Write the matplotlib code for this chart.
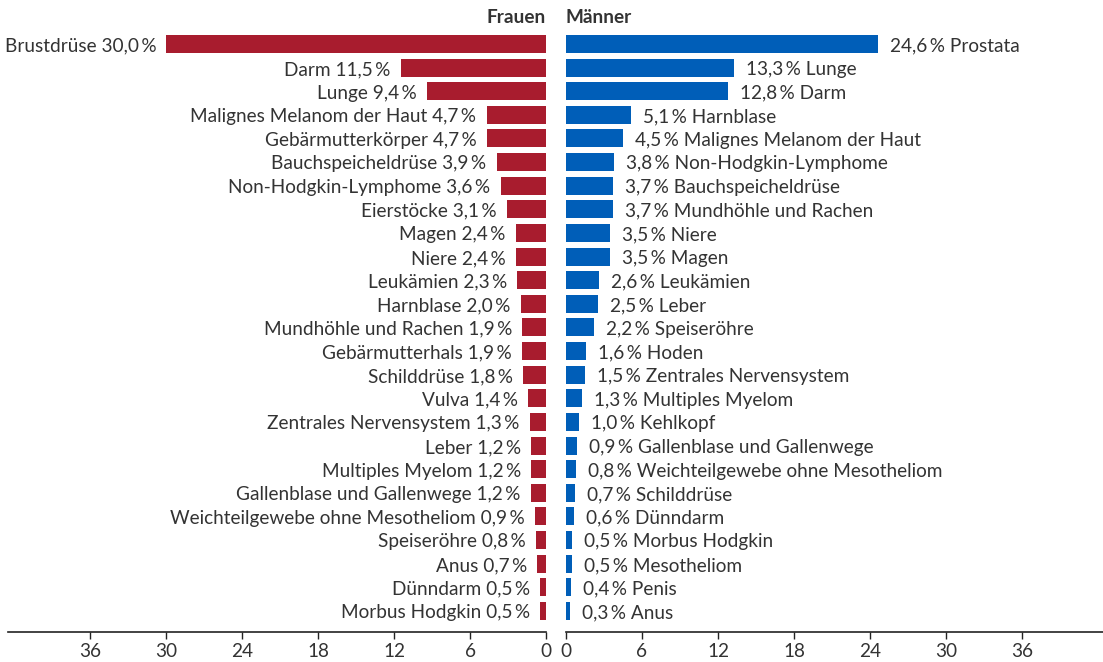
import matplotlib
matplotlib.use('Agg')
from matplotlib import pyplot as plt

############# Data ############
frauen_sites = ['Brustdrüse', 'Darm', 'Lunge', 'Malignes Melanom der Haut', 'Gebärmutterkörper',
                'Bauchspeicheldrüse', 'Non-Hodgkin-Lymphome', 'Eierstöcke', 'Magen', 'Niere',
                'Leukämien', 'Harnblase', 'Mundhöhle und Rachen', 'Gebärmutterhals', 'Schilddrüse',
                'Vulva', 'Zentrales Nervensystem', 'Leber', 'Multiples Myelom',
                'Gallenblase und Gallenwege', 'Weichteilgewebe ohne Mesotheliom', 'Speiseröhre',
                'Anus', 'Dünndarm', 'Morbus Hodgkin']
frauen_values = [30.0, 11.5, 9.4, 4.7, 4.7, 3.9, 3.6, 3.1, 2.4, 2.4, 2.3, 2.0, 1.9, 1.9, 1.8,
                 1.4, 1.3, 1.2, 1.2, 1.2, 0.9, 0.8, 0.7, 0.5, 0.5]

maenner_sites = ['Prostata', 'Lunge', 'Darm', 'Harnblase', 'Malignes Melanom der Haut',
                 'Non-Hodgkin-Lymphome', 'Bauchspeicheldrüse', 'Mundhöhle und Rachen', 'Niere',
                 'Magen', 'Leukämien', 'Leber', 'Speiseröhre', 'Hoden', 'Zentrales Nervensystem',
                 'Multiples Myelom', 'Kehlkopf', 'Gallenblase und Gallenwege',
                 'Weichteilgewebe ohne Mesotheliom', 'Schilddrüse', 'Dünndarm', 'Morbus Hodgkin',
                 'Mesotheliom', 'Penis', 'Anus']
maenner_values = [24.6, 13.3, 12.8, 5.1, 4.5, 3.8, 3.7, 3.7, 3.5, 3.5, 2.6, 2.5, 2.2, 1.6, 1.5,
                  1.3, 1.0, 0.9, 0.8, 0.7, 0.6, 0.5, 0.5, 0.4, 0.3]

ticks = [0, 6, 12, 18, 24, 30, 36]
###############################

RED = '#a81c2e'
BLUE = '#005eb8'
TXT = '#333333'
FS = 13.7

plt.rcParams['font.family'] = ['Lato', 'DejaVu Sans']


def pct(v):
	return ('%.1f' % v).replace('.', ',') + '\u2009%'


fig = plt.figure(figsize=(11.03, 6.62), dpi=100)
ax_l = fig.add_axes([0.0073, 0.0453, 0.4878, 0.9094])
ax_r = fig.add_axes([0.5131, 0.0453, 0.4869, 0.9094])

ypos = list(range(len(frauen_values)))

ax_l.barh(ypos, frauen_values, height=0.76, color=RED)
for y, v, s in zip(ypos, frauen_values, frauen_sites):
	ax_l.text(v + 0.8, y + 0.08, s + ' ' + pct(v), ha='right', va='center', fontsize=FS, color=TXT)
ax_l.set_xlim(42.5, 0)

ax_r.barh(ypos, maenner_values, height=0.76, color=BLUE)
for y, v, s in zip(ypos, maenner_values, maenner_sites):
	ax_r.text(v + 0.95, y + 0.08, pct(v) + ' ' + s, ha='left', va='center', fontsize=FS, color=TXT)
ax_r.set_xlim(0, 42.4)

for ax in (ax_l, ax_r):
	ax.set_ylim(24.89, -0.59)
	ax.set_yticks([])
	ax.set_xticks(ticks)
	ax.set_xticklabels([str(t) for t in ticks])
	for sp in ('top', 'left', 'right'):
		ax.spines[sp].set_visible(False)
	ax.spines['bottom'].set_color('#222222')
	ax.spines['bottom'].set_linewidth(1.2)
	ax.tick_params(axis='x', direction='out', length=5, width=1, color='#222222',
				   labelsize=FS, labelcolor=TXT, pad=3)
	ax.patch.set_visible(False)

fig.text(0.4951, 0.974, 'Frauen', ha='right', va='center', fontsize=FS, fontweight='bold', color=TXT)
fig.text(0.5131, 0.974, 'Männer', ha='left', va='center', fontsize=FS, fontweight='bold', color=TXT)

fig.savefig('out.png', dpi=100)
